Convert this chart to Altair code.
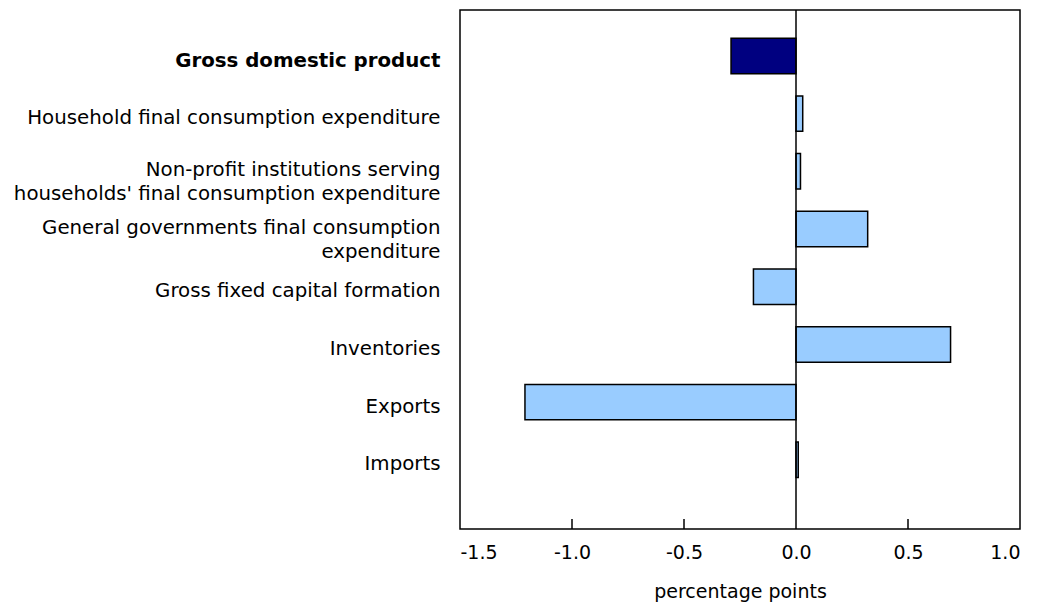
import altair as alt
import pandas as pd

categories = [
    "Gross domestic product",
    "Household final consumption expenditure",
    "Non-profit institutions serving|households' final consumption expenditure",
    "General governments final consumption|expenditure",
    "Gross fixed capital formation",
    "Inventories",
    "Exports",
    "Imports",
]
values = [-0.29, 0.03, 0.02, 0.32, -0.19, 0.69, -1.21, 0.01]
groups = ["total", "part", "part", "part", "part", "part", "part", "part"]
tick_values = [-1.5, -1.0, -0.5, 0.0, 0.5, 1.0]
inner_ticks = [-1.0, -0.5, 0.5]
zero_line = [0.0]

FONT = "DejaVu Sans"
W, H = 560, 519

df = pd.DataFrame({"category": categories, "value": values, "group": groups})
ticks_df = pd.DataFrame({"t": inner_ticks})
zero_df = pd.DataFrame({"z": zero_line})

xscale = alt.Scale(domain=[-1.5, 1.0], nice=False, zero=False)

bars = alt.Chart(df).mark_bar(stroke="black", strokeWidth=1.5).encode(
    x=alt.X(
        "value:Q",
        scale=xscale,
        axis=alt.Axis(
            values=tick_values,
            labelExpr="replace(format(datum.value, '.1f'), '\u2212', '-')",
            title="percentage points",
            titleFont=FONT,
            titleFontSize=19,
            titleFontWeight="normal",
            titleColor="black",
            titlePadding=20,
            labelFont=FONT,
            labelFontSize=19,
            labelColor="black",
            labelPadding=14,
            domain=False,
            ticks=False,
            grid=False,
        ),
    ),
    y=alt.Y(
        "category:N",
        sort=categories,
        scale=alt.Scale(paddingInner=0.385, paddingOuter=0.69, align=0.354),
        axis=alt.Axis(
            title=None,
            labelExpr="split(datum.value, '|')",
            labelFont=FONT,
            labelFontSize=19.8,
            labelColor="black",
            labelLineHeight=24,
            labelLimit=0,
            labelPadding=20,
            labelFontWeight={
                "condition": {"test": "datum.value == 'Gross domestic product'", "value": "bold"},
                "value": "normal",
            },
            labelOffset={
                "condition": {"test": "indexof(datum.value, '|') >= 0", "value": -1},
                "value": 4.6,
            },
            domain=False,
            ticks=False,
            grid=False,
        ),
    ),
    color=alt.Color(
        "group:N",
        scale=alt.Scale(domain=["total", "part"], range=["#000080", "#99CCFF"]),
        legend=None,
    ),
)

zero = alt.Chart(zero_df).mark_rule(color="black", strokeWidth=1.5).encode(
    x=alt.X("z:Q", scale=xscale)
)

tick_marks = alt.Chart(ticks_df).mark_rule(color="black", strokeWidth=1.5).encode(
    x=alt.X("t:Q", scale=xscale),
    y=alt.value(H - 10),
    y2=alt.value(H),
)

chart = (
    alt.layer(bars, zero, tick_marks)
    .properties(
        width=W,
        height=H,
        autosize=alt.AutoSizeParams(type="none"),
        padding={"left": 452, "top": 2, "right": 10, "bottom": 82},
    )
    .configure(background="white")
    .configure_view(stroke="black", strokeWidth=1.5)
)

chart.save("out.html", embed_options={"renderer": "svg", "actions": False})
